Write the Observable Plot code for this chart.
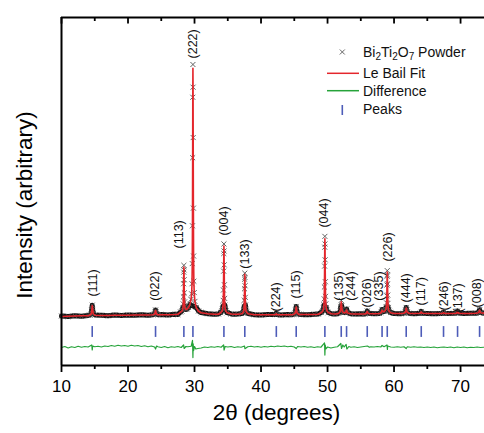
<!DOCTYPE html>
<html><head><meta charset="utf-8">
<script src="https://cdn.jsdelivr.net/npm/d3@7"></script>
<script src="https://cdn.jsdelivr.net/npm/@observablehq/plot@0.6"></script>
<style>
body{margin:0;background:#fff;}
#wrap{position:relative;width:484px;height:433px;font-family:"Liberation Sans",Arial,sans-serif;}
</style></head><body><div id="wrap"></div>
<script>
// ---- observed scan & Le Bail fit (2θ in degrees, intensity normalised to (222) = 1) ----
const twoTheta = [
  10, 11, 12, 13, 14,
  14.22, 14.47, 14.55, 14.62, 14.69, 14.77, 15.02,
  16, 17, 18, 19, 20, 21, 22, 23,
  23.74, 23.99, 24.07, 24.14, 24.21, 24.29, 24.54,
  25, 26, 27, 27.5,
  27.9, 28.1, 28.2, 28.26, 28.3, 28.33, 28.36, 28.38, 28.4, 28.42, 28.44, 28.47, 28.5, 28.54, 28.6, 28.7,
  28.9, 29.1, 29.3, 29.46,
  29.56, 29.62, 29.66, 29.69, 29.72, 29.74, 29.76, 29.78, 29.8, 29.83, 29.86, 29.9, 29.96, 30.06, 30.26, 30.6, 31, 32, 33, 33.6,
  33.92, 34.12, 34.22, 34.28, 34.32, 34.35, 34.38, 34.4, 34.42, 34.44, 34.46, 34.49, 34.52, 34.56, 34.62, 34.72, 34.92,
  35.5, 36, 36.5,
  37.06, 37.26, 37.36, 37.42, 37.46, 37.49, 37.52, 37.54, 37.56, 37.58, 37.6, 37.63, 37.66, 37.7, 37.76, 37.86, 38.06,
  39, 40, 41,
  42.15, 42.3, 42.45,
  43, 44, 44.6,
  44.89, 45.14, 45.22, 45.29, 45.36, 45.44, 45.69,
  46, 47, 48, 48.6,
  49.1, 49.3, 49.4, 49.46, 49.5, 49.53, 49.56, 49.58, 49.6, 49.62, 49.64, 49.67, 49.7, 49.74, 49.8, 49.9, 50.1,
  50.6, 51.2,
  51.66, 51.91, 51.99, 52.06, 52.13, 52.21, 52.4, 52.71, 52.86, 53.01,
  53.5, 54, 55, 55.6,
  55.82, 55.97, 56.12,
  57, 57.8,
  58.05, 58.2, 58.35, 58.48, 58.68, 58.78, 58.84, 58.88, 58.91, 58.94, 58.96, 58.98, 59, 59.02, 59.05, 59.08, 59.12, 59.18, 59.28, 59.48,
  60, 61,
  61.43, 61.68, 61.76, 61.83, 61.9, 61.98, 62.23,
  63,
  63.94, 64.09, 64.24,
  65, 66, 67,
  67.29, 67.44, 67.59,
  68, 69,
  69.4, 69.55, 69.7,
  70.5, 71.5, 72.3,
  72.71, 72.86, 73.01,
  73.6
];
const observed = [
  0.002, 0.000, 0.003, 0.001, 0.004,
  0.006, 0.011, 0.026, 0.045, 0.028, 0.012, 0.006,
  0.005, 0.003, 0.006, 0.004, 0.006, 0.005, 0.007, 0.005,
  0.007, 0.010, 0.017, 0.026, 0.018, 0.010, 0.007,
  0.008, 0.006, 0.009, 0.008,
  0.018, 0.022, 0.028, 0.036, 0.05, 0.078, 0.13, 0.176, 0.203, 0.185, 0.146, 0.094, 0.058, 0.04, 0.032, 0.028,
  0.03, 0.036, 0.048, 0.068,
  0.09, 0.13, 0.21, 0.36, 0.63, 0.87, 1.0, 0.91, 0.71, 0.43, 0.24, 0.14, 0.095, 0.06, 0.036, 0.022, 0.016, 0.011, 0.009, 0.01,
  0.016, 0.022, 0.03, 0.042, 0.064, 0.105, 0.18, 0.25, 0.288, 0.26, 0.205, 0.126, 0.072, 0.045, 0.032, 0.022, 0.015,
  0.01, 0.009, 0.01,
  0.012, 0.015, 0.02, 0.027, 0.04, 0.065, 0.11, 0.148, 0.172, 0.155, 0.122, 0.076, 0.045, 0.029, 0.021, 0.016, 0.012,
  0.007, 0.006, 0.008,
  0.008, 0.013, 0.008,
  0.006, 0.008, 0.007,
  0.009, 0.014, 0.025, 0.04, 0.026, 0.014, 0.009,
  0.008, 0.007, 0.009, 0.01,
  0.017, 0.024, 0.033, 0.046, 0.07, 0.117, 0.2, 0.275, 0.318, 0.288, 0.225, 0.138, 0.08, 0.05, 0.035, 0.024, 0.016,
  0.011, 0.01,
  0.013, 0.021, 0.04, 0.064, 0.043, 0.024, 0.016, 0.016, 0.03, 0.015,
  0.011, 0.01, 0.011, 0.01,
  0.013, 0.022, 0.013,
  0.011, 0.012,
  0.016, 0.028, 0.02, 0.02, 0.024, 0.03, 0.038, 0.054, 0.082, 0.125, 0.16, 0.182, 0.165, 0.13, 0.085, 0.052, 0.036, 0.027, 0.021, 0.016,
  0.012, 0.011,
  0.013, 0.017, 0.025, 0.036, 0.026, 0.018, 0.013,
  0.011,
  0.013, 0.02, 0.013,
  0.012, 0.011, 0.012,
  0.012, 0.016, 0.012,
  0.012, 0.013,
  0.014, 0.022, 0.014,
  0.012, 0.013, 0.013,
  0.016, 0.027, 0.016,
  0.013
];
const fitted = [
  0.000, 0.001, 0.002, 0.003, 0.003,
  0.005, 0.010, 0.024, 0.043, 0.027, 0.011, 0.005,
  0.004, 0.004, 0.005, 0.005, 0.005, 0.006, 0.006, 0.006,
  0.007, 0.009, 0.016, 0.024, 0.017, 0.009, 0.007,
  0.007, 0.007, 0.008, 0.009,
  0.017, 0.021, 0.027, 0.035, 0.048, 0.076, 0.126, 0.172, 0.196, 0.181, 0.143, 0.092, 0.057, 0.039, 0.031, 0.028,
  0.03, 0.035, 0.047, 0.066,
  0.088, 0.127, 0.205, 0.352, 0.62, 0.86, 0.985, 0.9, 0.7, 0.425, 0.237, 0.138, 0.093, 0.059, 0.035, 0.021, 0.015, 0.011, 0.009, 0.009,
  0.015, 0.021, 0.029, 0.041, 0.062, 0.102, 0.176, 0.245, 0.28, 0.255, 0.2, 0.124, 0.071, 0.044, 0.031, 0.021, 0.015,
  0.01, 0.009, 0.009,
  0.011, 0.014, 0.019, 0.026, 0.039, 0.063, 0.107, 0.144, 0.167, 0.151, 0.119, 0.075, 0.044, 0.028, 0.02, 0.015, 0.011,
  0.007, 0.007, 0.007,
  0.007, 0.011, 0.007,
  0.007, 0.007, 0.007,
  0.008, 0.013, 0.024, 0.038, 0.025, 0.013, 0.008,
  0.008, 0.008, 0.008, 0.009,
  0.016, 0.023, 0.032, 0.045, 0.068, 0.113, 0.193, 0.268, 0.308, 0.282, 0.221, 0.136, 0.079, 0.049, 0.034, 0.023, 0.016,
  0.011, 0.01,
  0.012, 0.02, 0.037, 0.058, 0.04, 0.022, 0.015, 0.015, 0.026, 0.014,
  0.011, 0.01, 0.01, 0.01,
  0.012, 0.02, 0.012,
  0.011, 0.012,
  0.015, 0.025, 0.019, 0.019, 0.023, 0.029, 0.037, 0.052, 0.079, 0.121, 0.155, 0.176, 0.16, 0.127, 0.083, 0.051, 0.035, 0.026, 0.02, 0.015,
  0.012, 0.012,
  0.013, 0.016, 0.024, 0.034, 0.025, 0.017, 0.013,
  0.012,
  0.013, 0.018, 0.013,
  0.012, 0.012, 0.012,
  0.012, 0.015, 0.012,
  0.012, 0.012,
  0.013, 0.02, 0.013,
  0.012, 0.012, 0.013,
  0.015, 0.025, 0.015,
  0.013
];
// ---- difference curve [2θ, obs - fit] ----
const differenceCurve = [
  [10,0.000],[10.5,0.004],[11,-0.002],[11.5,0.003],[12,0.000],[12.5,0.005],[13,0.001],[13.5,0.004],[14,0.002],
  [14.55,0.010],[14.62,-0.010],[14.7,0.006],[15,0.003],[15.5,0.005],[16,0.002],[16.5,0.006],[17,0.004],[17.5,0.008],
  [18,0.005],[18.5,0.009],[19,0.006],[19.5,0.008],[20,0.005],[20.5,0.009],[21,0.006],[21.5,0.008],[22,0.004],[22.5,0.007],
  [23,0.003],[23.5,0.006],[24,0.002],[24.14,-0.006],[24.3,0.006],[24.5,0.003],[25,0.000],[25.5,0.004],[26,-0.001],
  [26.5,0.003],[27,0.001],[27.5,0.004],[28,0.000],[28.36,0.010],[28.44,-0.004],[28.7,0.004],[29,0.003],[29.5,0.005],
  [29.7,0.028],[29.76,-0.040],[29.8,0.015],[29.86,-0.012],[30,0.004],[30.2,-0.006],[30.5,-0.004],[31,-0.002],[31.5,0.002],
  [32,0.000],[32.5,0.003],[33,0.001],[33.5,0.004],[34,0.001],[34.38,0.010],[34.44,-0.010],[34.6,0.004],[35,0.002],
  [35.5,0.004],[36,0.000],[36.5,0.003],[37,0.001],[37.52,0.006],[37.58,-0.005],[38,0.003],[38.5,0.005],[39,0.002],
  [39.5,0.004],[40,0.001],[40.5,0.004],[41,0.002],[41.5,0.005],[42,0.003],[42.5,0.006],[43,0.004],[43.5,0.006],
  [44,0.003],[44.5,0.005],[45,0.002],[45.3,-0.004],[45.5,0.004],[46,0.002],[46.5,0.004],[47,0.001],[47.5,0.003],
  [48,0.000],[48.5,0.003],[49,0.001],[49.55,0.018],[49.6,-0.030],[49.66,0.010],[49.72,-0.006],[50,0.002],[50.5,-0.002],
  [51,0.001],[51.5,0.003],[52,0.016],[52.1,-0.004],[52.3,0.010],[52.5,0.002],[52.8,0.012],[52.9,-0.006],[53.2,0.004],
  [53.5,0.001],[54,0.003],[54.5,0.000],[55,0.002],[55.5,0.004],[56,0.006],[56.3,0.001],[56.5,0.003],[57,0.002],
  [57.5,0.004],[58,0.002],[58.2,0.008],[58.5,0.003],[58.94,0.010],[59,-0.008],[59.05,0.006],[59.5,0.002],[60,0.001],
  [60.5,0.003],[61,0.001],[61.5,0.003],[61.83,-0.004],[62,0.003],[62.5,0.001],[63,0.003],[63.5,0.001],[64,0.002],
  [64.5,0.000],[65,0.002],[65.5,0.000],[66,0.002],[66.5,-0.001],[67,0.001],[67.5,0.002],[68,0.000],[68.5,0.002],
  [69,-0.001],[69.5,0.002],[70,0.000],[70.5,0.002],[71,-0.001],[71.5,0.001],[72,0.000],[72.5,0.002],[73,0.000],[73.5,0.001]
];
// ---- Bragg peak positions and Miller-index labels ----
const peakTheta = [14.62, 24.14, 28.40, 29.76, 34.42, 37.56, 42.3, 45.29, 49.60, 52.06, 52.86, 55.97, 58.20, 58.98, 61.83, 64.09, 67.44, 69.55, 72.86];
const hklLabels = ["(111)","(022)","(113)","(222)","(004)","(133)","(224)","(115)","(044)","(135)","(244)","(026)","(335)","(226)","(444)","(117)","(246)","(137)","(008)"];
const hklTheta  = [14.75, 24.03, 27.64, 29.74, 34.42, 37.56, 42.3, 45.29, 49.5, 51.7, 53.46, 55.97, 57.71, 59.07, 61.83, 64.09, 67.44, 69.65, 72.45];
const hklHeight = [0.079, 0.063, 0.27, 1.024, 0.321, 0.19, 0.02, 0.071, 0.353, 0.063, 0.063, 0.036, 0.063, 0.218, 0.056, 0.044, 0.024, 0.016, 0.036];
// ---- axis ticks ----
const majorTicks = [10, 20, 30, 40, 50, 60, 70];
const minorTicks = [15, 25, 35, 45, 55, 65];
// ---- stacking offsets (intensity units) ----
const diffOffset = -0.123;
const peakRow = [-0.083, -0.04];

const xDomain = [10, 73.6];
const yDomain = [-0.1944, 1.1865];
const W = 484, H = 433, mT = 17, mB = 68, mL = 61;
const plotH = H - mT - mB;

const rows = twoTheta.map((x, i) => ({x, obs: observed[i], fit: fitted[i]}));
const diffRows = differenceCurve.map(([x, d]) => ({x, d}));
const labels = hklLabels.map((t, i) => ({t, x: hklTheta[i], y: hklHeight[i]}));
const FONT = '"Liberation Sans", Arial, Helvetica, sans-serif';

const chart = Plot.plot({
  width: W, height: H, marginLeft: mL, marginRight: 0, marginTop: mT, marginBottom: mB,
  x: {domain: xDomain},
  y: {domain: yDomain, axis: null},
  style: {fontFamily: FONT, background: "white", color: "#000", overflow: "visible"},
  marks: [
    Plot.line(rows.filter(d => d.obs < 0.05), {x: "x", y: "obs", stroke: "#141414", strokeWidth: 5}),
    Plot.dot(rows, {x: "x", y: "obs", symbol: "times", r: 2.4, stroke: "#505050", strokeWidth: 0.9}),
    Plot.line(rows, {x: "x", y: "fit", stroke: "#e4262c", strokeWidth: 1.6}),
    Plot.ruleX(peakTheta, {y1: peakRow[0], y2: peakRow[1], stroke: "#4d5cb8", strokeWidth: 1.6}),
    Plot.line(diffRows, {x: "x", y: d => d.d + diffOffset, stroke: "#26a33a", strokeWidth: 1.2}),
    Plot.text(labels, {x: "x", y: "y", text: "t", rotate: -90, textAnchor: "start", fontSize: 12.5, fill: "#111"}),
    Plot.ruleX([xDomain[0]], {stroke: "#000", strokeWidth: 2}),
    Plot.ruleY([yDomain[0], yDomain[1]], {stroke: "#000", strokeWidth: 2}),
    Plot.axisX({anchor: "bottom", ticks: majorTicks, tickSize: 7, tickPadding: 7.5, fontSize: 17, strokeWidth: 1.8, label: null}),
    Plot.axisX({anchor: "bottom", ticks: minorTicks, tickSize: 4, tickFormat: () => "", strokeWidth: 1.8, label: null}),
    Plot.ruleX(majorTicks, {insetBottom: plotH - 6.6, stroke: "#000", strokeWidth: 1.8}),
    Plot.ruleX(minorTicks, {insetBottom: plotH - 4, stroke: "#000", strokeWidth: 1.8}),
    Plot.text(["2θ (degrees)"], {text: d => d, frameAnchor: "bottom", textAnchor: "middle", lineAnchor: "middle", dx: 3.5, dy: 47, fontSize: 22.5}),
    Plot.text(["Intensity (arbitrary)"], {text: d => d, frameAnchor: "left", textAnchor: "middle", lineAnchor: "middle", dx: -37, dy: 13.5, rotate: -90, fontSize: 22.5})
  ]
});
const wrap = document.getElementById("wrap");
wrap.appendChild(chart);

// legend overlay
wrap.insertAdjacentHTML("beforeend", `
<svg width="${W}" height="${H}" style="position:absolute;left:0;top:0;pointer-events:none" font-family='${FONT}' font-size="14" fill="#111">
  <path d="M339.8,49.5 l5,5 M344.8,49.5 l-5,5" stroke="#666" stroke-width="1"/>
  <text x="363" y="57">Bi<tspan font-size="10" dy="3">2</tspan><tspan dy="-3">Ti</tspan><tspan font-size="10" dy="3">2</tspan><tspan dy="-3">O</tspan><tspan font-size="10" dy="3">7</tspan><tspan dy="-3"> Powder</tspan></text>
  <line x1="327" x2="359" y1="73.3" y2="73.3" stroke="#e4262c" stroke-width="1.5"/>
  <text x="363" y="78.3">Le Bail Fit</text>
  <line x1="327" x2="359" y1="90.7" y2="90.7" stroke="#26a33a" stroke-width="1.5"/>
  <text x="363" y="96">Difference</text>
  <line x1="342.3" x2="342.3" y1="105" y2="115" stroke="#4d5cb8" stroke-width="1.6"/>
  <text x="363" y="114">Peaks</text>
</svg>`);
</script>
</body></html>
